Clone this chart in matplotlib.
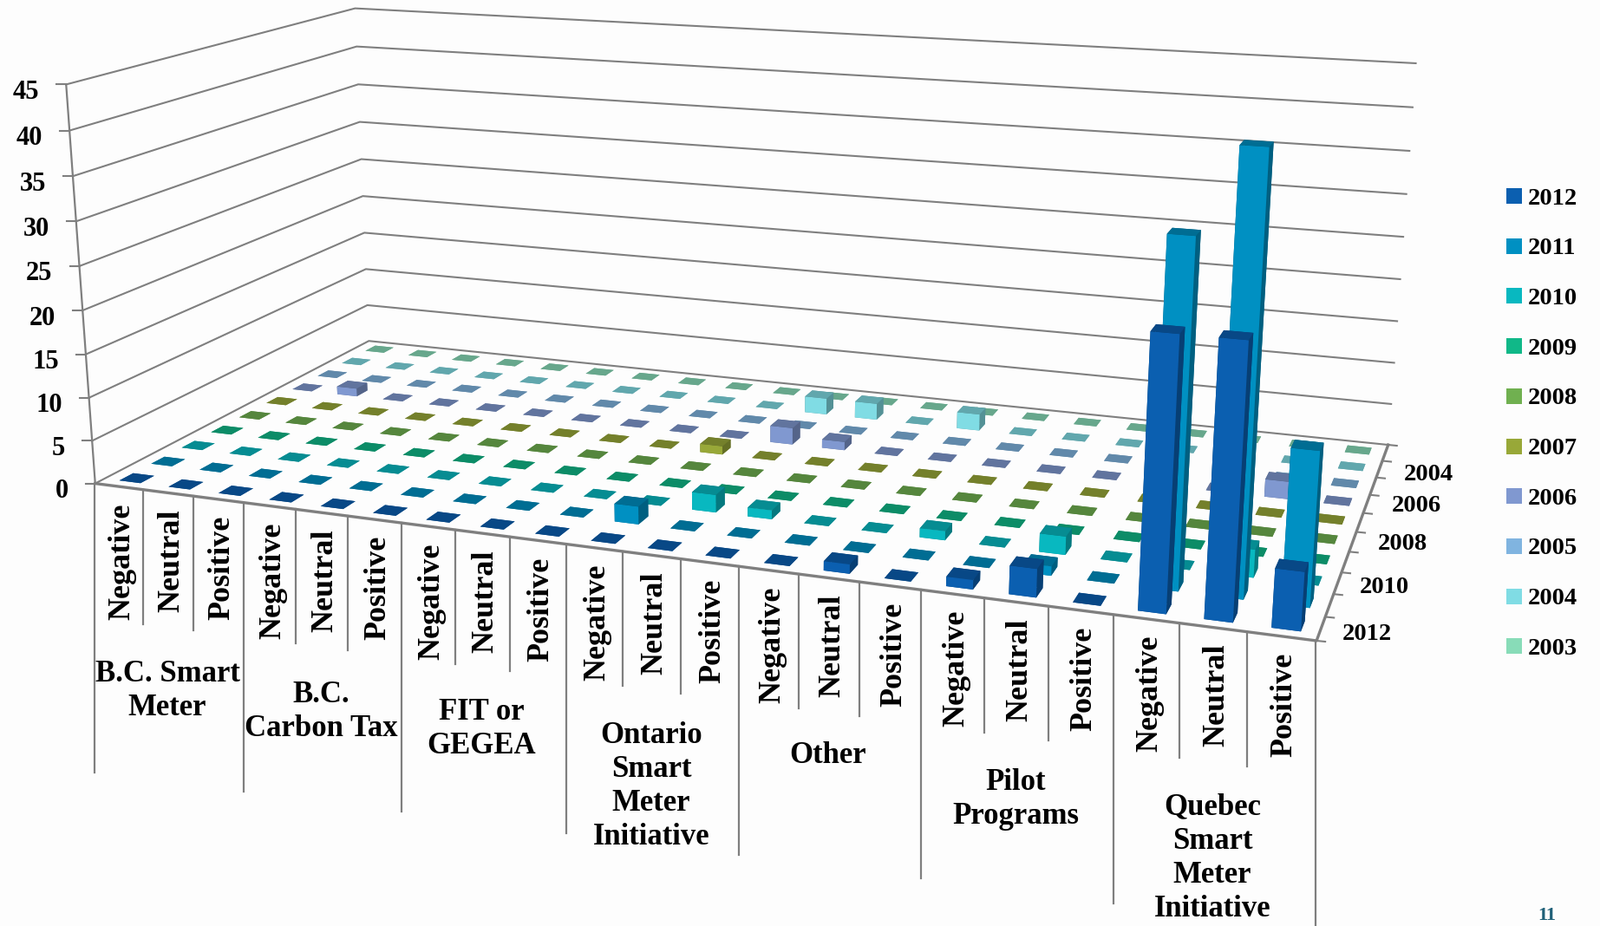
import numpy as np
import matplotlib
matplotlib.use('Agg')
import matplotlib.pyplot as plt
from matplotlib.patches import Rectangle

# one list per year, 21 categories (topic x tone), counts
years = ['2012', '2011', '2010', '2009', '2008', '2007', '2006', '2005', '2004', '2003']
tones = ['Negative', 'Neutral', 'Positive']
topics = ['B.C. Smart\nMeter', 'B.C.\nCarbon Tax', 'FIT or\nGEGEA', 'Ontario\nSmart\nMeter\nInitiative',
          'Other', 'Pilot\nPrograms', 'Quebec\nSmart\nMeter\nInitiative']
v2012 = [0, 0, 0, 0, 0, 0, 0, 0, 0, 0, 0, 0, 0, 1, 0, 1, 3, 0, 28, 28, 6]
v2011 = [0, 0, 0, 0, 0, 0, 0, 0, 0, 2, 0, 0, 0, 0, 0, 0, 1, 0, 36, 45, 16]
v2010 = [0, 0, 0, 0, 0, 0, 0, 0, 0, 0, 2, 1, 0, 0, 1, 0, 2, 0, 0, 3, 0]
v2009 = [0] * 21
v2008 = [0] * 21
v2007 = [0, 0, 0, 0, 0, 0, 0, 0, 0, 1, 0, 0, 0, 0, 0, 0, 0, 0, 0, 0, 0]
v2006 = [0, 1, 0, 0, 0, 0, 0, 0, 0, 0, 2, 1, 0, 0, 0, 0, 0, 0, 0, 2, 0]
v2005 = [0] * 21
v2004 = [0, 0, 0, 0, 0, 0, 0, 0, 0, 0, 2, 2, 0, 2, 0, 0, 0, 0, 0, 0, 0]
v2003 = [0] * 21
values = [v2012, v2011, v2010, v2009, v2008, v2007, v2006, v2005, v2004, v2003]
colors = ['#0B5FB0', '#0090C2', '#08B8C0', '#10B888', '#70B050', '#98A838', '#8098D0', '#80B4E0', '#80DCE4', '#88DCB8']
z_ticks = [0, 5, 10, 15, 20, 25, 30, 35, 40, 45]

W, H = 1845, 1068
GRAY = '#7f7f7f'
FONT = 'Liberation Serif'
plt.rcParams['font.family'] = FONT
plt.rcParams['font.weight'] = 'bold'

# frame of the chart: axis corners -> where they sit on the page, used to fit the perspective
n_x, n_y, z_max = 21, 10, 45
frame = np.array([[0, 0, 0], [n_x, 0, 0], [n_x, n_y, 0], [0, n_y, 0], [0, 0, z_max], [0, n_y, z_max],
                  [n_x, n_y, z_max], [0, 0, 20], [0, n_y, 20], [n_x, n_y, 20]], float)
page = np.array([[109.4, 558], [1518, 739], [1601, 513], [425, 393], [77, 97], [408, 10],
                 [1633, 73], [95, 358], [420, 226], [1614, 322]], float)


def fit_camera(world, px):
    rows = []
    for (X, Y, Z), (u, v) in zip(world, px):
        rows.append([X, Y, Z, 1, 0, 0, 0, 0, -u * X, -u * Y, -u * Z, -u])
        rows.append([0, 0, 0, 0, X, Y, Z, 1, -v * X, -v * Y, -v * Z, -v])
    p = np.linalg.svd(np.array(rows))[2][-1].reshape(3, 4)
    return p / p[2, 3]


P = fit_camera(frame, page)


def to_px(x, y, z):
    u, v, w = P @ np.array([x, y, z, 1.0])
    return u / w, v / w


fig = plt.figure(figsize=(W / 100, H / 100), dpi=100, facecolor='#FDFDFD')
ax = fig.add_axes([0, 0, 1, 1], projection='3d', computed_zorder=False)
ax.apply_aspect = lambda position=None: None
ax.set_position([0, 0, 1, 1])
ax.set_axis_off()
ax.patch.set_alpha(0)

# walls
for z in z_ticks:
    ax.plot([0, 0, n_x], [0, n_y, n_y], [z, z, z], color=GRAY, lw=1.5, zorder=1)
ax.plot([0, n_x, n_x], [0, 0, n_y], [0, 0, 0], color=GRAY, lw=2.4, zorder=2)
ax.plot([0, 0], [0, 0], [0, z_max], color=GRAY, lw=1.6, zorder=2)


def shade(c, f):
    return tuple(np.array(matplotlib.colors.to_rgb(c)) * f)


# bars, back row first so nearer ones paint over
bw = 0.43
order = 10
for r in range(len(years) - 1, -1, -1):
    for c in range(n_x):
        top = shade(colors[r], 0.76)
        side = shade(colors[r], 0.66)
        front = colors[r]
        ax.bar3d(c + 0.52 - bw / 2, r + 0.5 - bw / 2, 0, bw, bw, values[r][c],
                 color=[top, top, front, side, side, side], shade=False, linewidth=0,
                 edgecolor='none', zorder=order)
        order += 1

# page-pixel overlay for labels and the hanging axis lines
ov = fig.add_axes([0, 0, 1, 1])
ov.set_xlim(0, W)
ov.set_ylim(H, 0)
ov.axis('off')

for z in z_ticks:
    x0, y0 = to_px(0, 0, z)
    ov.plot([x0 - 11, x0], [y0, y0], color=GRAY, lw=1.5)
    ov.text(x0 - 31, y0 + 9, str(z), ha='right', va='center', fontsize=22)

for r in range(n_y + 1):
    x0, y0 = to_px(n_x, r, 0)
    ov.plot([x0, x0 + 10], [y0, y0 + 1], color=GRAY, lw=1.5)

year_pos = [(1576, 731), (1596, 677), (1617, 628), (1633, 584), (1647, 547)]
for i, (xp, yp) in enumerate(year_pos):
    ov.text(xp, yp, years[i * 2], ha='center', va='center', fontsize=20.5)

# tone labels and hanging lines
for c in range(n_x + 1):
    x0, y0 = to_px(c, 0, 0)
    ln = 333 if c % 3 == 0 else 155
    ov.plot([x0 - 1, x0 - 1], [y0, y0 + ln], color=GRAY, lw=1.6, clip_on=True)
for c in range(n_x):
    x0, y0 = to_px(c + 0.5, 0, 0)
    ov.text(x0 + 3, y0 + 19, tones[c % 3], rotation=90, ha='center', va='top', fontsize=26)

topic_pos = [(193, 797), (370, 821), (555, 841), (751, 907), (955, 871), (1171, 922), (1398, 990)]
for t, (xp, yp) in zip(topics, topic_pos):
    ov.text(xp, yp, t, ha='center', va='center', fontsize=25, linespacing=1.25, multialignment='center')

# legend
for i, (y, col) in enumerate(zip(years, colors)):
    yc = 226 + i * 57.7
    ov.add_patch(Rectangle((1737, yc - 9), 18, 18, facecolor=col, edgecolor='none'))
    ov.text(1762, yc + 3, y, ha='left', va='center', fontsize=20.5)

ov.text(1784, 1056, '11', ha='center', va='center', fontsize=16, color='#1F6078')

# hook the fitted camera into the 3d axes (page pixels -> axes 2d coords)
T = ax.transData.inverted().get_matrix()
flip = np.array([[1, 0, 0], [0, -1, H], [0, 0, 1.0]])
A = T @ flip @ P
# depth row only drives face sorting; kept negative since mplot3d culls lines behind the camera
M = np.vstack([A[0], A[1], [-0.3, 1, -0.5, -11], A[2]])
ax.get_proj = lambda: M

fig.savefig('out.png', dpi=100, facecolor=fig.get_facecolor())
